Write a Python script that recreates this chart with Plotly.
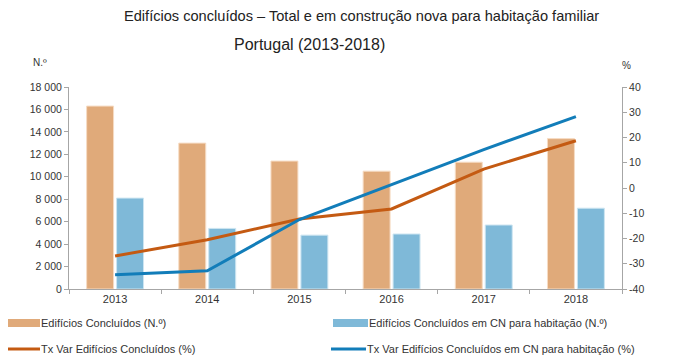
import plotly.graph_objects as go

years = ["2013", "2014", "2015", "2016", "2017", "2018"]
edif_concluidos = [16300, 13000, 11400, 10500, 11300, 13400]
edif_cn_habit = [8100, 5400, 4800, 4900, 5700, 7200]
tx_var_concluidos = [-26.9, -20.5, -12.3, -8.3, 7.5, 18.7]
tx_var_cn_habit = [-34.4, -32.8, -12.5, 1.5, 15.2, 28.3]

left_ticks = [0, 2000, 4000, 6000, 8000, 10000, 12000, 14000, 16000, 18000]
right_ticks = [-40, -30, -20, -10, 0, 10, 20, 30, 40]
right_ticktext = ["-40", "-30", "-20", "-10", "0", "10", "20", "30", "40"]

names = [
    "Edifícios Concluídos (N.º)",
    "Edifícios Concluídos em CN para habitação (N.º)",
    "Tx Var Edifícios Concluídos (%)",
    "Tx Var Edifícios Concluídos em CN para habitação (%)",
]

c_bar1 = "#E0AA7A"
c_bar2 = "#7FB9D8"
c_line1 = "#C45A12"
c_line2 = "#127DB9"
colors = [c_bar1, c_bar2, c_line1, c_line2]

fig = go.Figure()
fig.add_trace(go.Bar(x=years, y=edif_concluidos, name=names[0], showlegend=False,
                     marker=dict(color=c_bar1, line=dict(color="#F6DCC4", width=1))))
fig.add_trace(go.Bar(x=years, y=edif_cn_habit, name=names[1], showlegend=False,
                     marker=dict(color=c_bar2, line=dict(color="#CDE5F1", width=1))))
fig.add_trace(go.Scatter(x=years, y=tx_var_concluidos, name=names[2], mode="lines",
                         showlegend=False, line=dict(color=c_line1, width=3), yaxis="y2"))
fig.add_trace(go.Scatter(x=years, y=tx_var_cn_habit, name=names[3], mode="lines",
                         showlegend=False, line=dict(color=c_line2, width=3), yaxis="y2"))

font_main = "Liberation Sans, Arial, sans-serif"

# page offset (body margin) and figure size
OFF = 8
FW, FH = 680 - OFF, 360 - OFF
# plot area in screen pixels
L, R, T, B = 69, 622, 87, 289
W, H = R - L, B - T


def px(x):
    return (x - L) / W


def py(y):
    return (B - y) / H


fig.update_layout(
    width=FW, height=FH,
    margin=dict(l=L - OFF, r=680 - R, t=T - OFF, b=360 - B, autoexpand=False),
    paper_bgcolor="white", plot_bgcolor="white",
    separators=", ",
    font=dict(family=font_main, size=11, color="#333333"),
    barmode="group", bargap=0.35, bargroupgap=0.1,
    showlegend=False,
    xaxis=dict(type="category", showline=True, linecolor="#A6A6A6", linewidth=1,
               ticks="outside", ticklen=4, tickcolor="#A6A6A6", tickson="boundaries",
               showgrid=False, tickfont=dict(size=11, color="#333333")),
    yaxis=dict(range=[0, 18000], tickvals=left_ticks, showline=True, linecolor="#A6A6A6",
               linewidth=1, ticks="outside", ticklen=4, tickcolor="#A6A6A6",
               showgrid=False, zeroline=False, tickformat=",d",
               tickfont=dict(size=10.5, color="#333333")),
    yaxis2=dict(range=[-40, 40], tickvals=right_ticks, ticktext=right_ticktext,
                overlaying="y", side="right", showline=True, linecolor="#A6A6A6",
                linewidth=1, ticks="outside", ticklen=4, tickcolor="#A6A6A6",
                showgrid=False, zeroline=False,
                tickfont=dict(size=10.5, color="#333333")),
)

# Legend (manual, 2 x 2 grid)
legend_pos = [(5, 323), (333, 323), (5, 349), (331, 349)]
for i, (name, col, (lx, ly)) in enumerate(zip(names, colors, legend_pos)):
    sx = max(lx, OFF)
    if i < 2:
        fig.add_shape(type="rect", xref="paper", yref="paper",
                      x0=px(sx), x1=px(lx + 35), y0=py(ly + 4), y1=py(ly - 4),
                      fillcolor=col, line=dict(width=0))
    else:
        fig.add_shape(type="line", xref="paper", yref="paper",
                      x0=px(sx), x1=px(lx + 35), y0=py(ly), y1=py(ly),
                      line=dict(color=col, width=3))
    fig.add_annotation(text=name, xref="paper", yref="paper", x=px(lx + 34), y=py(ly),
                       showarrow=False, xanchor="left", yanchor="middle",
                       font=dict(family=font_main, size=11, color="#333333"))

fig.add_annotation(text="Edifícios concluídos – Total e em construção nova para habitação familiar",
                   xref="paper", yref="paper", x=px(361), y=py(16),
                   showarrow=False, xanchor="center", yanchor="middle",
                   font=dict(family=font_main, size=14.6, color="#222222"))
fig.add_annotation(text="Portugal (2013-2018)",
                   xref="paper", yref="paper", x=px(309), y=py(44),
                   showarrow=False, xanchor="center", yanchor="middle",
                   font=dict(family=font_main, size=16, color="#222222"))
fig.add_annotation(text="N.º", xref="paper", yref="paper", x=px(40),
                   y=py(63), showarrow=False, xanchor="center", yanchor="middle",
                   font=dict(family=font_main, size=10, color="#333333"))
fig.add_annotation(text="%", xref="paper", yref="paper", x=px(626),
                   y=py(66), showarrow=False, xanchor="center", yanchor="middle",
                   font=dict(family=font_main, size=10, color="#333333"))

fig.write_html("out.html")
